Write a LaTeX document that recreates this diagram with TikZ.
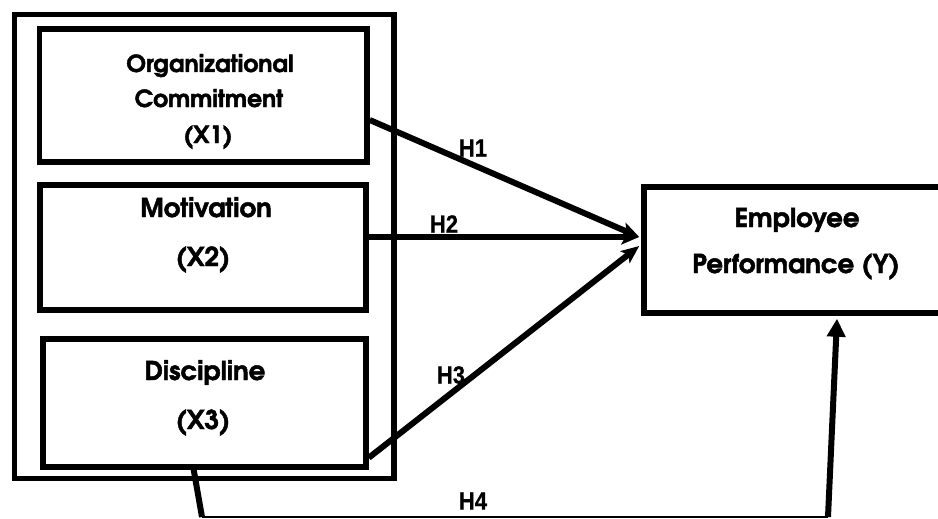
\documentclass[tikz,border=0pt]{standalone}
\usepackage{fontspec}
\setmainfont{texgyreadventor}[Extension=.otf, UprightFont=*-regular, BoldFont=*-bold, BoldFeatures={FakeBold=1.8}]
\newfontfamily\hfont{Liberation Sans}[BoldFeatures={FakeBold=0.8}]
\usetikzlibrary{arrows.meta,calc}
\begin{document}
\begin{tikzpicture}[x=1pt,y=-1pt,
  frame/.style={draw=black, line width=5.5pt, fill=none, inner sep=0pt},
  lbl/.style={anchor=base, inner sep=0pt, font=\fontsize{26}{30}\selectfont\bfseries},
  lblsm/.style={lbl, font=\fontsize{23.5}{28}\selectfont\bfseries},
  hlab/.style={inner sep=0pt, font=\hfont\fontsize{25}{28}\selectfont\bfseries},
  conn/.style={line width=6pt, -{Stealth[length=18pt,width=15pt,inset=4pt]}},
  thin/.style={line width=2pt}
]
\useasboundingbox (0,0) rectangle (938,519);
\clip (0,0) rectangle (938,519);
\fill[white] (0,0) rectangle (938,519);

% boxes
\node[frame, minimum width=379.5pt, minimum height=464pt] (outer) at (204.25,246.5) {};
\node[frame, minimum width=327.5pt, minimum height=133pt] (box1) at (203.25,95.5) {};
\node[frame, minimum width=326pt, minimum height=125pt] (box2) at (203,247.5) {};
\node[frame, minimum width=323pt, minimum height=128pt] (box3) at (204.5,403) {};
\node[frame, minimum width=316pt, minimum height=126pt] (emp) at (802,250) {};

% texts
\node[lblsm] (t1a) at (210,72) {Organizational};
\node[lblsm] (t1b) at (209,107) {Commitment};
\node[lblsm] (t1c) at (208,143) {(X1)};
\node[lbl] (t2a) at (206,217) {Motivation};
\node[lbl] (t2b) at (203,266) {(X2)};
\node[lbl] (t3a) at (205,380) {Discipline};
\node[lbl] (t3b) at (203,429) {(X3)};
\node[lbl] (tya) at (797,227) {Employee};
\node[lbl] (tyb) at (796,273) {Performance (Y)};

% connectors
\draw[conn] ([yshift=-24.5pt]box1.east) -- ([xshift=-2pt,yshift=13pt]emp.west);
\draw[conn] ([yshift=10.5pt]box2.east) -- ([xshift=-2pt,yshift=13pt]emp.west);
\draw[conn] ([yshift=12pt]box3.south east) -- ([xshift=-2pt,yshift=4pt]emp.west);

\coordinate (h4a) at (202,517);
\coordinate (h4b) at (828,517);
\draw[line width=6pt] ([xshift=-11.5pt,yshift=4pt]box3.south) -- (h4a);
\draw[thin] (h4a) -- (h4b);
\draw[line width=6pt, -{Triangle[length=18pt,width=18pt]}] (h4b) -- ([xshift=35pt,yshift=-3pt]emp.south);

% hypothesis labels
\node[hlab] (h1) at (473,148) {\scalebox{0.88}[1]{H1}};
\node[hlab] (h2) at (444,224) {\scalebox{0.88}[1]{H2}};
\node[hlab] (h3) at (451,375) {\scalebox{0.88}[1]{H3}};
\node[hlab] (h4) at (473,501) {\scalebox{0.88}[1]{H4}};
\end{tikzpicture}
\end{document}
